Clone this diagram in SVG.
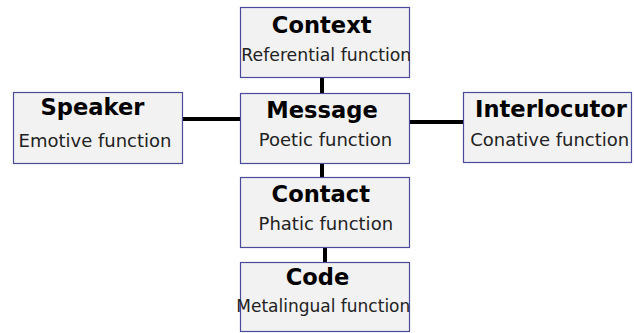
<svg xmlns="http://www.w3.org/2000/svg" width="634" height="333" viewBox="0 0 634 333">
<style>
.box{fill:#f2f2f2;stroke:#4b4b9b;stroke-width:1.2}
.t{font-family:"DejaVu Sans",sans-serif;font-weight:bold;font-size:22.6px;fill:#000;text-anchor:middle}
.s{font-family:"DejaVu Sans",sans-serif;font-size:18px;fill:#222;text-anchor:middle}
.c{stroke:#000;stroke-width:4;fill:none}
</style>
<defs>
<clipPath id="clipCtx"><rect x="240" y="7" width="170" height="71"/></clipPath>
<clipPath id="clipCode"><rect x="230" y="262" width="180" height="70"/></clipPath>
</defs>
<rect width="634" height="333" fill="#fff"/>
<g id="connectors">
<line class="c" x1="322" y1="78" x2="322" y2="93"/>
<line class="c" x1="322" y1="163" x2="322" y2="177"/>
<line class="c" x1="325" y1="247" x2="325" y2="262"/>
<line class="c" x1="183" y1="119" x2="240" y2="119"/>
<line class="c" x1="410" y1="122" x2="463" y2="122"/>
</g>
<g id="context">
<rect class="box" x="240.5" y="7.5" width="169" height="70"/>
<text class="t" x="321.7" y="32.5">Context</text>
<text class="s" x="241.3" y="61" style="text-anchor:start;font-size:17.3px" clip-path="url(#clipCtx)">Referential function</text>
</g>
<g id="message">
<rect class="box" x="240.5" y="93.5" width="169" height="70"/>
<text class="t" x="322" y="118">Message</text>
<text class="s" x="325.5" y="145.7">Poetic function</text>
</g>
<g id="speaker">
<rect class="box" x="13.5" y="92.5" width="169" height="71"/>
<text class="t" x="92.5" y="115">Speaker</text>
<text class="s" x="95" y="146.5">Emotive function</text>
</g>
<g id="interlocutor">
<rect class="box" x="463.5" y="92.5" width="168" height="70"/>
<text class="t" x="551" y="117">Interlocutor</text>
<text class="s" x="549.7" y="146">Conative function</text>
</g>
<g id="contact">
<rect class="box" x="240.5" y="177.5" width="169" height="70"/>
<text class="t" x="320.8" y="202">Contact</text>
<text class="s" x="325.8" y="229.7">Phatic function</text>
</g>
<g id="code">
<rect class="box" x="240.5" y="262.5" width="169" height="69"/>
<text class="t" x="317.5" y="285">Code</text>
<text class="s" x="236.3" y="311.5" style="text-anchor:start;font-size:17px" clip-path="url(#clipCode)">Metalingual function</text>
</g>
</svg>
